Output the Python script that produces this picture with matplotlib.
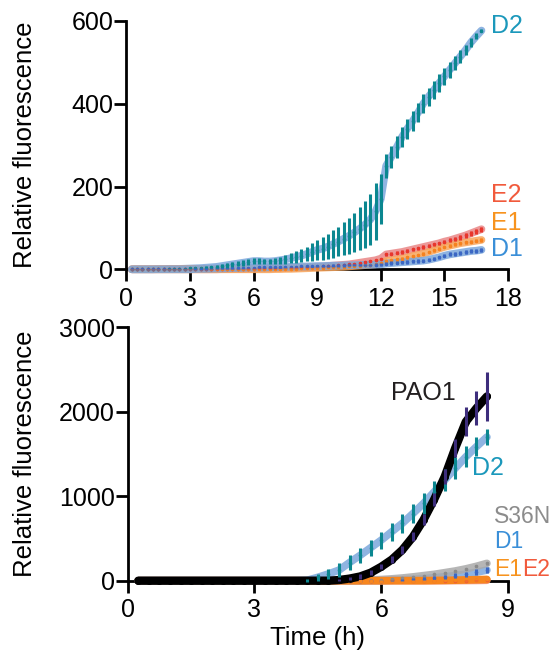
import numpy as np
import matplotlib
matplotlib.use("Agg")
import matplotlib.pyplot as plt

plt.rcParams['font.family'] = ['Liberation Sans', 'DejaVu Sans']
plt.rcParams['font.size'] = 18

# ---- top panel data (every 15 min) ----
t_top = np.arange(0.25, 16.76, 0.25)

d2_top = [0, 0, 0, 0, 0, 0.5, 0.5, 1, 1, 1, 1.5, 2,
          2.5, 3, 4, 5, 6, 8, 10, 12, 14, 16, 18, 20,
          20, 19, 19, 20, 22, 24, 27, 30, 33, 37, 42, 47,
          50, 55, 61, 67, 74, 81, 89, 98, 108, 120, 140, 170,
          250, 272, 295, 320, 340, 358, 378, 400, 417, 433, 450, 466,
          482, 498, 514, 530, 548, 563, 577]
d2_top_err = [1, 1, 1, 1, 1, 1, 1, 1.5, 1.5, 2, 2, 2.5,
              3, 3, 4, 4, 5, 5, 6, 6, 7, 7, 8, 8,
              7, 6, 6, 7, 8, 10, 12, 14, 16, 18, 21, 24,
              27, 30, 33, 36, 40, 44, 48, 52, 57, 62, 68, 60,
              29, 27, 26, 25, 24, 24, 23, 23, 22, 22, 21, 20,
              19, 17, 15, 13, 10, 7, 4]

e2_top = [0] * 12 + [0, 0, 0, 0, 0, 0.5, 0.5, 1, 1, 1, 1.5, 1.5,
          2, 2, 2, 2.5, 3, 3, 3.5, 4, 4.5, 5, 5.5, 6,
          7, 8, 9, 10, 11, 12, 14, 16, 18, 20, 22, 26,
          36, 38, 40, 42, 45, 48, 51, 54, 57, 60, 63, 67,
          70, 74, 78, 82, 87, 92, 97]
e2_top_err = [0.5] * 24 + [1] * 12 + [2] * 12 + [4] * 12 + [5, 5, 6, 6, 6, 6, 6]

e1_top = [0] * 24 + [0, 0, 0, 0.5, 0.5, 1, 1, 1.5, 2, 2.5, 3, 3.5,
          4, 4.5, 5, 5.5, 6, 7, 8, 9, 10, 11, 12, 15,
          20, 22, 24, 26, 29, 32, 35, 38, 42, 46, 50, 54,
          57, 60, 63, 65, 67, 69, 71]
e1_top_err = [0.5] * 24 + [1] * 12 + [2] * 12 + [3] * 12 + [4] * 7

d1_top = [0] * 12 + [0.5, 1, 1, 1.5, 2, 2, 2.5, 3, 3, 3.5, 4, 4,
          4.5, 4.5, 5, 5, 5.5, 6, 6, 6.5, 7, 7, 7.5, 8,
          8, 8.5, 9, 9, 9.5, 10, 10, 10.5, 11, 11, 11.5, 12,
          14, 15, 16, 17, 18, 19, 20, 21, 23, 26, 29, 33,
          36, 38, 40, 42, 44, 45, 47]
d1_top_err = [0.5] * 12 + [1.5] * 24 + [3] * 12 + [4] * 12 + [5] * 7

# ---- bottom panel data ----
t_bot = np.arange(0.25, 8.51, 0.25)

pao1 = [0] * 19 + [8, 25, 50, 95, 165, 250, 365, 520, 720, 960,
                   1230, 1570, 1880, 2040, 2180]
pao1_err = [0] * 19 + [15, 20, 25, 30, 32, 38, 45, 55, 65, 75,
                       90, 110, 170, 200, 290]

d2_bot = [0] * 16 + [5, 40, 80, 125, 215, 300, 390, 480, 580, 680,
                     795, 915, 1050, 1190, 1330, 1465, 1585, 1700]
d2_bot_err = [1] * 16 + [15, 40, 60, 80, 85, 90, 95, 100, 105, 110,
                         115, 120, 125, 130, 130, 125, 115, 100]

s36n = [0] * 22 + [8, 14, 22, 32, 45, 60, 75, 95, 115, 140, 170, 205]
s36n_err = [1] * 22 + [3, 4, 5, 6, 7, 8, 9, 10, 11, 12, 13, 14]

d1_bot = [0] * 24 + [5, 10, 17, 25, 35, 47, 60, 78, 100, 125]
d1_bot_err = [1] * 24 + [5, 8, 10, 14, 18, 22, 26, 30, 34, 38]

e1_bot = [0] * 28 + [2, 4, 6, 9, 12, 15]
e1_bot_err = [1] * 34

e2_bot = [0] * 30 + [1, 2, 3, 5]
e2_bot_err = [1] * 34

BAND_BLUE = '#7ba7dc'


def series(ax, t, y, err, band, bar, dot=None, alpha=0.85, ms=2.6, elw=2.2,
           lw=5.5):
    dot = dot or bar
    ax.plot(t, y, color=band, lw=lw, alpha=alpha, solid_capstyle='round',
            clip_on=False, zorder=3)
    ax.plot(t, y, 'o', ms=ms, color=dot, mew=0, clip_on=False, zorder=4)
    ax.errorbar(t, y, yerr=err, fmt='none', ecolor=bar, elinewidth=elw,
                capsize=0, clip_on=False, zorder=5)


def style(ax, xlim, xticks, ylim, yticks):
    ax.set_xlim(*xlim)
    ax.set_ylim(*ylim)
    ax.set_xticks(xticks)
    ax.set_yticks(yticks)
    for s in ['top', 'right']:
        ax.spines[s].set_visible(False)
    for s in ['left', 'bottom']:
        ax.spines[s].set_linewidth(2)
        ax.spines[s].set_zorder(2)
    ax.tick_params(direction='out', length=8.5, width=2, labelsize=18)
    ax.tick_params(axis='y', pad=1)
    ax.tick_params(axis='x', pad=4)
    ax.set_ylabel('Relative fluorescence', fontsize=18.5)


fig = plt.figure(figsize=(5.57, 6.54), dpi=100)
ax1 = fig.add_axes([0.2271, 0.5882, 0.6849, 0.3797])
ax2 = fig.add_axes([0.2293, 0.1121, 0.6828, 0.3876])

# top panel
series(ax1, t_top, d2_top, d2_top_err, BAND_BLUE, '#0b8790')
series(ax1, t_top, e2_top, e2_top_err, '#e98686', '#e8362c')
series(ax1, t_top, e1_top, e1_top_err, '#f8a65c', '#f6821f')
series(ax1, t_top, d1_top, d1_top_err, BAND_BLUE, '#3b67c4')
style(ax1, (0, 18), [0, 3, 6, 9, 12, 15, 18], (0, 600), [0, 200, 400, 600])
ax1.yaxis.set_label_coords(-0.235, 0.5)

lab = dict(fontsize=18, va='center', ha='left', clip_on=False)
ax1.text(17.2, 587, 'D2', color='#1b98bb', **lab)
ax1.text(17.2, 180, 'E2', color='#f15a3c', **lab)
ax1.text(17.2, 113, 'E1', color='#f7931e', **lab)
ax1.text(17.2, 48, 'D1', color='#3a8fd8', **lab)

# bottom panel
series(ax2, t_bot, d1_bot, d1_bot_err, BAND_BLUE, '#3b67c4')
series(ax2, t_bot, s36n, s36n_err, '#a9a9a9', '#8a8a8a')
series(ax2, t_bot, e2_bot, e2_bot_err, '#f08a70', '#ef5a3a')
series(ax2, t_bot, e1_bot, e1_bot_err, '#f7861e', '#f7861e', alpha=1)
series(ax2, t_bot, d2_bot, d2_bot_err, BAND_BLUE, '#0b8790')
series(ax2, t_bot, pao1, pao1_err, '#000000', '#3d2d7c', dot='#000000',
       alpha=1, ms=5, lw=6)
style(ax2, (0, 9), [0, 3, 6, 9], (0, 3000), [0, 1000, 2000, 3000])
ax2.yaxis.set_label_coords(-0.238, 0.5)
ax2.set_xlabel('Time (h)', fontsize=18.5)
ax2.xaxis.set_label_coords(0.5, -0.18)

ax2.text(7.76, 2225, 'PAO1', color='#231f20', fontsize=18, va='center',
         ha='right')
ax2.text(8.15, 1330, 'D2', color='#1b98bb', **lab)
small = dict(lab, fontsize=16.5)
ax2.text(8.66, 757, 'S36N', color='#8c8c8c', **small)
ax2.text(8.66, 462, 'D1', color='#3a8fd8', **small)
e1_txt = ax2.text(8.66, 127, 'E1', color='#f7931e', **small)
fig.canvas.draw()
bb = e1_txt.get_window_extent()
x_next = ax2.transData.inverted().transform((bb.x1, 0))[0]
ax2.text(x_next, 127, 'E2', color='#f15a3c', **small)

fig.savefig('out.png', dpi=100)
